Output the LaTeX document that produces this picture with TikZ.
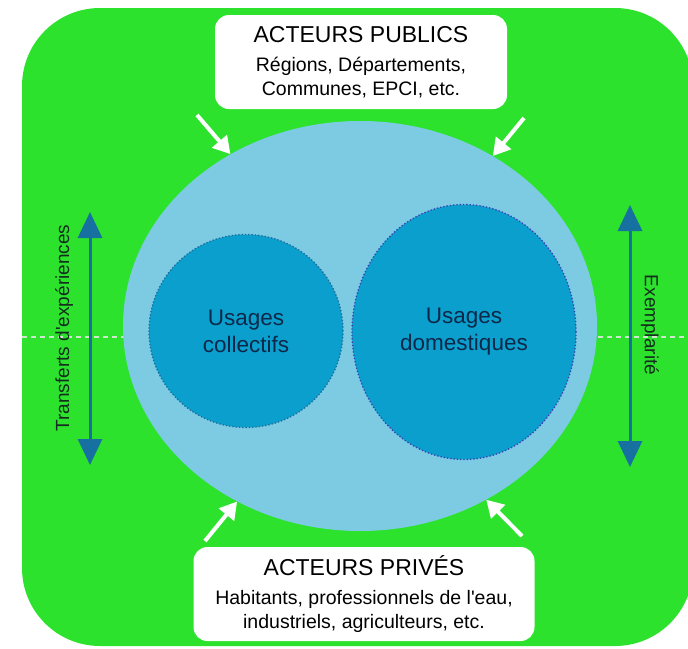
\documentclass[tikz,border=0pt]{standalone}
\usepackage{fontspec}
\setmainfont{Liberation Sans}[Ligatures=TeXOff]
\usetikzlibrary{arrows.meta,shapes.geometric}
\definecolor{vert}{RGB}{44,226,44}
\definecolor{bleuclair}{RGB}{124,203,226}
\definecolor{bleu}{RGB}{10,159,204}
\definecolor{bleufleche}{RGB}{22,112,160}
\definecolor{marine}{RGB}{14,40,74}
\definecolor{pointilles}{RGB}{29,106,154}
\definecolor{violet}{RGB}{60,62,180}
\definecolor{texte}{RGB}{20,45,30}
\definecolor{tiret}{RGB}{205,232,205}

\begin{document}
\begin{tikzpicture}[x=1pt,y=-1pt,
  acteurs/.style={fill=white,rounded corners=14pt,align=center,inner sep=0pt,
    font=\fontsize{19.5}{24}\selectfont},
  usage/.style={ellipse,fill=bleu,line width=1.3pt,dotted,inner sep=0pt,
    align=center,text=marine,font=\fontsize{22.5}{27}\selectfont},
  blanche/.style={white,line width=4pt,-{Triangle[length=17pt,width=19pt]}},
  echange/.style={bleufleche,line width=3pt,
    {Triangle[length=26pt,width=24pt]}-{Triangle[length=26pt,width=24pt]}},
  lateral/.style={text=texte,font=\fontsize{19}{23}\selectfont}]
\useasboundingbox (0,0) rectangle (688,648);
\fill[white] (0,0) rectangle (688,648);
\fill[vert,rounded corners=78pt] (22,8) rectangle (693,646);

\coordinate (axeG) at (22,337);
\coordinate (axeD) at (688,337);
\draw[tiret,line width=2pt,dash pattern=on 5pt off 4pt] (axeG) -- (axeD);

\node[ellipse,fill=bleuclair,minimum width=474pt,minimum height=410pt,inner sep=0pt] (eau) at (360,326) {};
\node[usage,draw=pointilles,minimum width=194pt,minimum height=193pt] (collectifs) at (246,331) {Usages\\collectifs};
\node[usage,draw=violet,minimum width=224pt,minimum height=255pt] (domestiques) at (464,332) {Usages\\domestiques};

\node[acteurs,minimum width=292pt,minimum height=94pt] (publics) at (361,62)
  {{\fontsize{23}{24}\selectfont ACTEURS PUBLICS}\\[5pt]Régions, Départements,\\Communes, EPCI, etc.};
\node[acteurs,minimum width=341pt,minimum height=94pt] (prives) at (364,594)
  {{\fontsize{23}{24}\selectfont ACTEURS PRIVÉS}\\[5pt]Habitants, professionnels de l'eau,\\industriels, agriculteurs, etc.};

\coordinate (pubG) at (197,115);
\coordinate (pubD) at (524,118);
\coordinate (privG) at (205,541);
\coordinate (privD) at (522,536);
\draw[blanche] (pubG) -- (eau.127);
\draw[blanche] (pubD) -- (eau.52);
\draw[blanche] (privG) -- (eau.235.7);
\draw[blanche] (privD) -- (eau.306.5);

\coordinate (transH) at (90,212);
\coordinate (transB) at (90,465);
\coordinate (exemH) at (630,205);
\coordinate (exemB) at (630,467);
\draw[echange] (transH) -- (transB);
\draw[echange] (exemH) -- (exemB);

\node[lateral,rotate=90] (transferts) at (64,328) {Transferts d'expériences};
\node[lateral,rotate=-90] (exemplarite) at (650,325) {Exemplarité};
\end{tikzpicture}
\end{document}
